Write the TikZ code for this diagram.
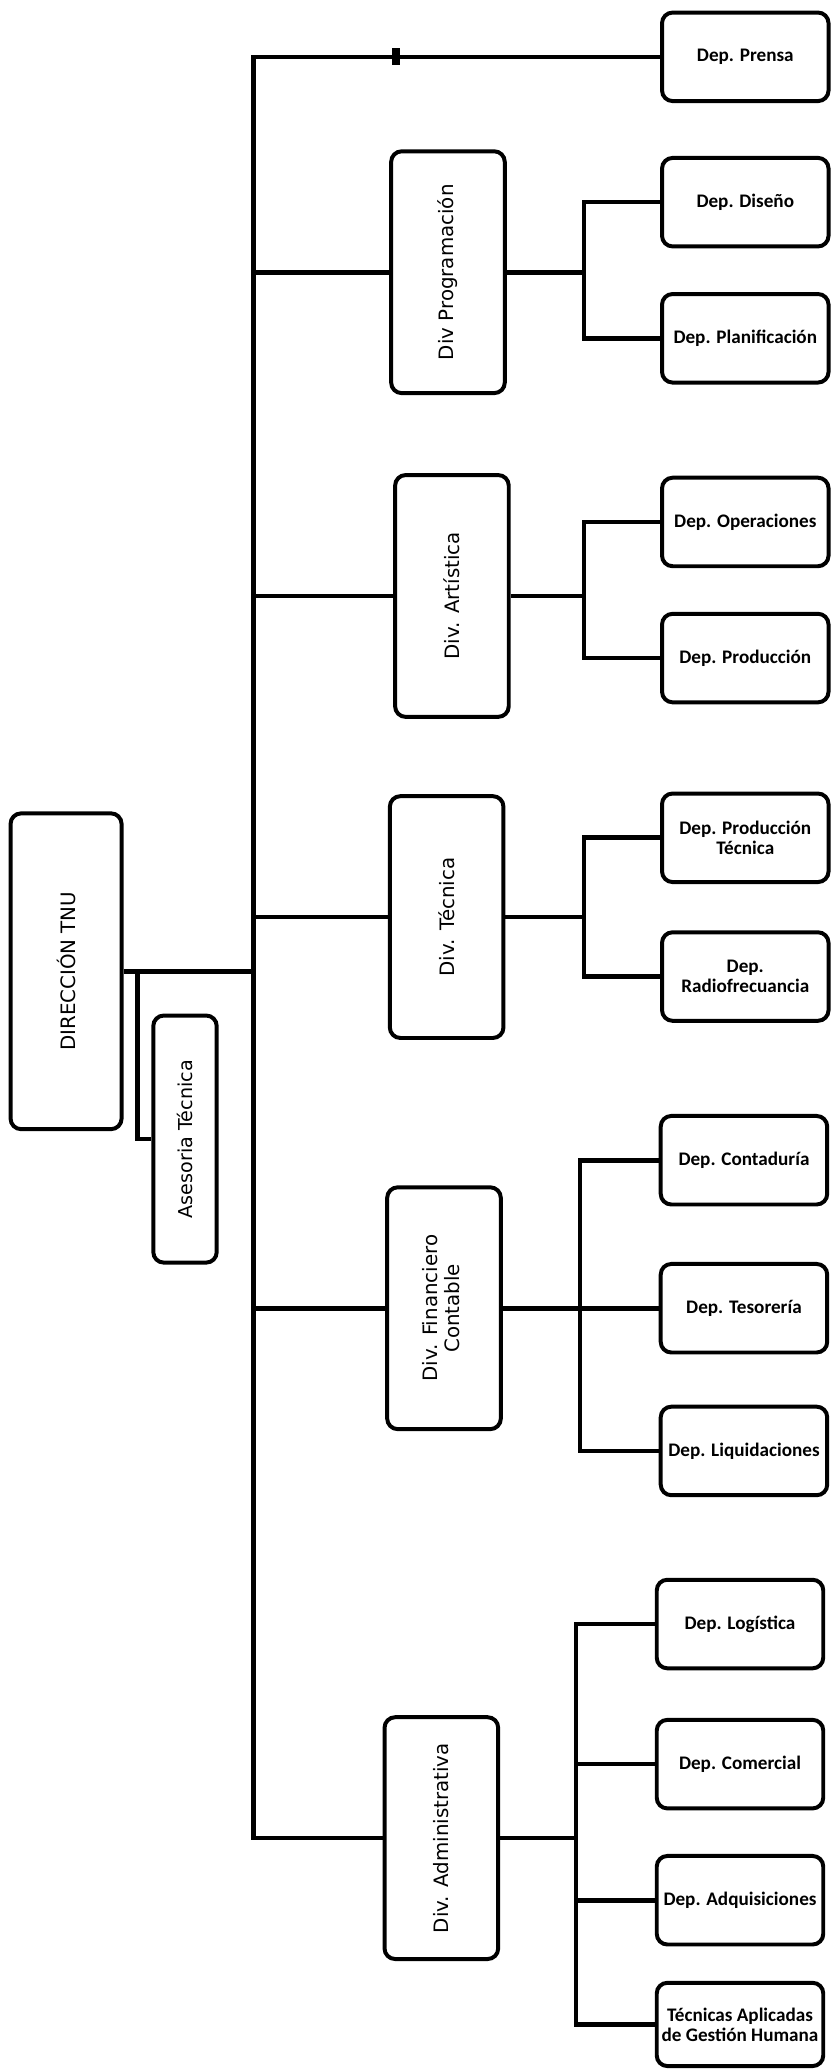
\documentclass[tikz,border=0pt]{standalone}
\usepackage{fontspec}
\setmainfont{Carlito}
\newfontfamily\divfont{DejaVu Sans}
\usepackage{tikz}

\begin{document}
\begin{tikzpicture}[x=1pt,y=-1pt,
    box/.style={draw,line width=3pt,rounded corners=8pt,inner sep=1pt},
    dep/.style={box,minimum width=126pt,minimum height=67pt,align=center,
        font=\fontsize{14.5}{15}\selectfont\bfseries},
    div/.style={box,minimum width=86pt,minimum height=183pt,
        font=\divfont\fontsize{15}{16}\selectfont},
    link/.style={line width=3.5pt}]
    \useasboundingbox (0,0) rectangle (630,1568);

    \node[box,minimum width=84pt,minimum height=239pt,font=\divfont\fontsize{15}{16}\selectfont] (dir) at (50,735) {\rotatebox{90}{DIRECCIÓN TNU}};
    \node[box,minimum width=48pt,minimum height=187pt,font=\divfont\fontsize{14.5}{16}\selectfont] (ases) at (140,862) {\rotatebox{90}{Asesoria Técnica}};

    \node[div] (prog) at (339,206) {\rotatebox{90}{Div Programación}};
    \node[div] (art) at (342,451) {\rotatebox{90}{Div. Artística}};
    \node[div] (tec) at (338,694) {\rotatebox{90}{Div. Técnica}};
    \node[div] (fin) at (336,990) {\rotatebox{90}{\begin{tabular}{@{}c@{}}Div. Financiero\\[1pt]Contable\end{tabular}}};
    \node[div] (adm) at (334,1391) {\rotatebox{90}{Div. Administrativa}};

    \node[dep] (pre) at (564,43) {Dep. Prensa};
    \node[dep] (dis) at (564,153) {Dep. Diseño};
    \node[dep] (pla) at (564,256) {Dep. Planificación};
    \node[dep] (ope) at (564,395) {Dep. Operaciones};
    \node[dep] (pro) at (564,498) {Dep. Producción};
    \node[dep] (prt) at (564,634) {Dep. Producción\\Técnica};
    \node[dep] (rad) at (564,739) {Dep.\\Radiofrecuancia};
    \node[dep] (con) at (563,878) {Dep. Contaduría};
    \node[dep] (tes) at (563,990) {Dep. Tesorería};
    \node[dep] (liq) at (563,1098) {Dep. Liquidaciones};
    \node[dep] (log) at (560,1229) {Dep. Logística};
    \node[dep] (com) at (560,1335) {Dep. Comercial};
    \node[dep] (adq) at (560,1438) {Dep. Adquisiciones};
    \node[dep,minimum height=63pt] (gh) at (560,1532) {Técnicas Aplicadas\\de Gestión Humana};

    \coordinate (top) at (192,43);
    \coordinate (bot) at (192,1391);
    \coordinate (ak) at (104,735);
    \coordinate (bprog) at (442,206);
    \coordinate (bart) at (442,451);
    \coordinate (btec) at (442,694);
    \coordinate (bfin) at (439,990);
    \coordinate (badm) at (436,1391);

    % tronco
    \draw[link] (pre.west) -- (top) -- (bot) -- (adm.west);
    \node[fill,minimum width=6pt,minimum height=13pt,inner sep=0pt] (mark) at (300,43) {};
    \draw[link] (top |- prog.west) -- (prog.west);
    \draw[link] (top |- art.west) -- (art.west);
    \draw[link] (top |- tec.west) -- (tec.west);
    \draw[link] (top |- fin.west) -- (fin.west);
    \draw[link] (dir.east) -- (top |- dir.east);
    \draw[link] (ak) |- (ases.west);

    % ramas
    \draw[link] (prog.east) -- (bprog);
    \draw[link] (dis.west) -| (bprog) |- (pla.west);
    \draw[link] (art.east) -- (bart);
    \draw[link] (ope.west) -| (bart) |- (pro.west);
    \draw[link] (tec.east) -- (btec);
    \draw[link] (prt.west) -| (btec) |- (rad.west);
    \draw[link] (fin.east) -- (bfin);
    \draw[link] (con.west) -| (bfin) |- (liq.west);
    \draw[link] (bfin) -- (tes.west);
    \draw[link] (adm.east) -- (badm);
    \draw[link] (log.west) -| (badm) |- (gh.west);
    \foreach \d in {com,adq}
        \draw[link] (badm |- \d.west) -- (\d.west);
\end{tikzpicture}
\end{document}
